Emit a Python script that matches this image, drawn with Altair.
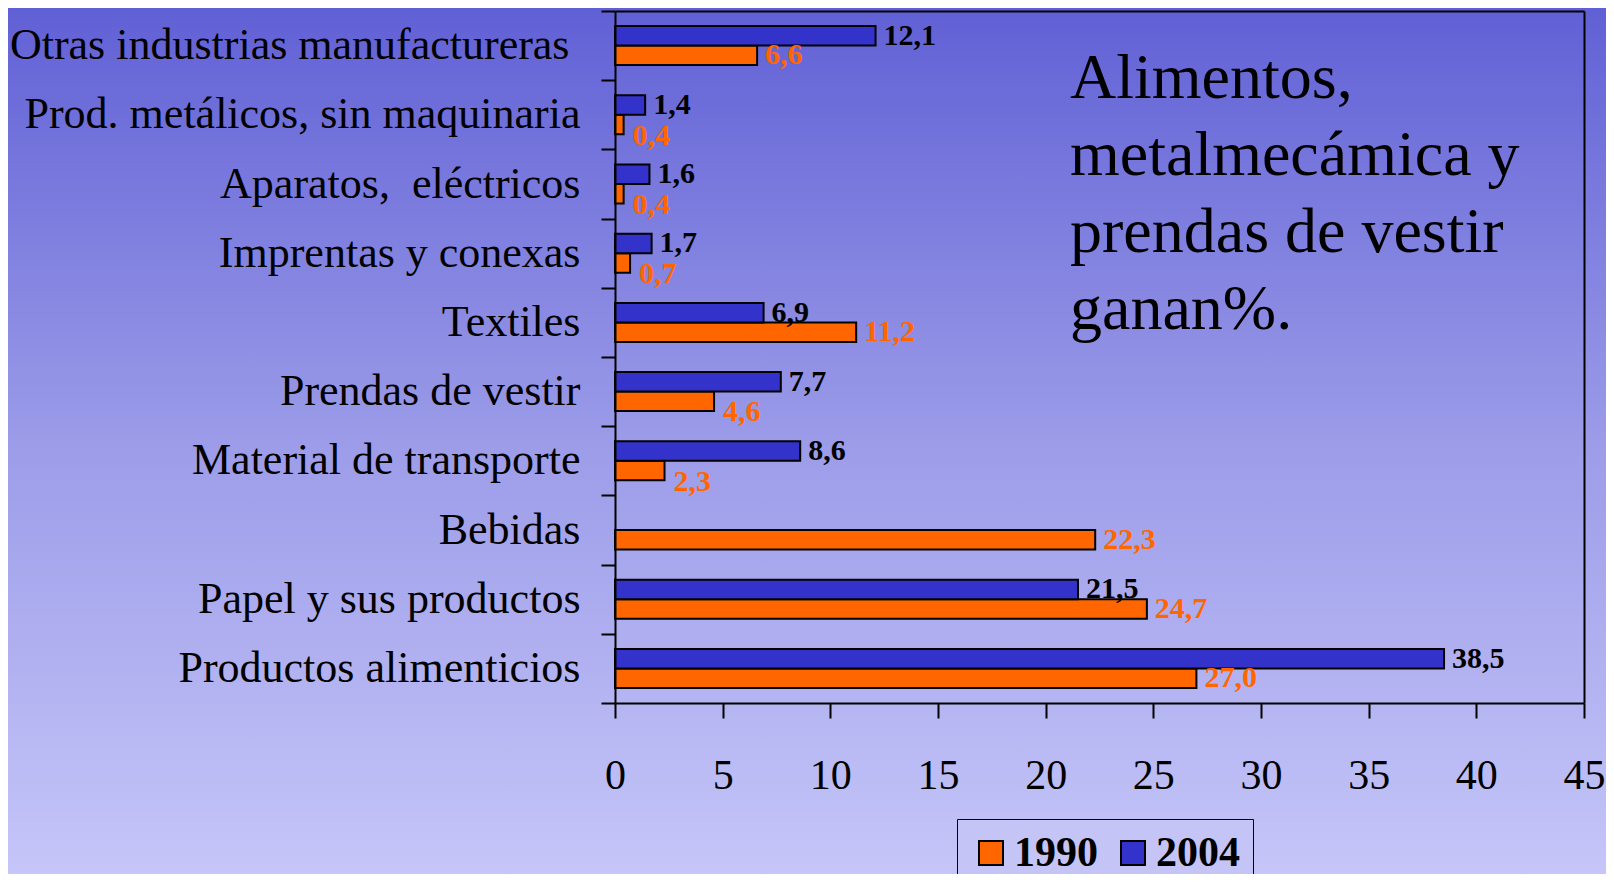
import altair as alt
import pandas as pd

categories = [
    "Otras industrias manufactureras\u00a0\u200b",
    "Prod. metálicos, sin maquinaria",
    "Aparatos,\u00a0 eléctricos",
    "Imprentas y conexas",
    "Textiles",
    "Prendas de vestir",
    "Material de transporte",
    "Bebidas",
    "Papel y sus productos",
    "Productos alimenticios",
]
values_1990 = [6.6, 0.4, 0.4, 0.7, 11.2, 4.6, 2.3, 22.3, 24.7, 27.0]
values_2004 = [12.1, 1.4, 1.6, 1.7, 6.9, 7.7, 8.6, None, 21.5, 38.5]
series = ["1990", "2004"]
series_colors = ["#ff6600", "#3333cc"]
x_ticks = [0, 5, 10, 15, 20, 25, 30, 35, 40, 45]
note = ["Alimentos,", "metalmecámica y", "prendas de vestir", "ganan%."]

rows = []
for c, a, b in zip(categories, values_1990, values_2004):
    rows.append({"cat": c, "serie": "1990", "valor": a})
    rows.append({"cat": c, "serie": "2004", "valor": b})
df = pd.DataFrame(rows)
df = df[df["valor"].notna()].copy()
df["etiqueta"] = df["valor"].map(lambda v: f"{v:.1f}".replace(".", ","))

FONT = "Liberation Serif"
W, H = 969, 692

y_scale = alt.Scale(domain=categories, paddingInner=0, paddingOuter=0)
x_scale = alt.Scale(domain=[0, 45], nice=False, zero=True)
yoff_scale = alt.Scale(domain=["2004", "1990"], paddingInner=0, paddingOuter=0.775)

# background gradient
bg = alt.Chart(pd.DataFrame({"k": [0]})).mark_rect(
    color=alt.LinearGradient(
        gradient="linear",
        stops=[alt.GradientStop(color="#5e5ed5", offset=0),
               alt.GradientStop(color="#9c9ce9", offset=0.5),
               alt.GradientStop(color="#c8c8fa", offset=1)],
        x1=0, x2=0, y1=0, y2=1),
    strokeWidth=0,
).encode(x=alt.value(-640), x2=alt.value(1020), y=alt.value(-20), y2=alt.value(890))

bars = alt.Chart(df).mark_bar(stroke="black", strokeWidth=2, opacity=1).encode(
    y=alt.Y("cat:N", scale=y_scale, sort=categories,
            axis=alt.Axis(title=None, orient="left", tickBand="extent", tickSize=14,
                          tickWidth=2, tickColor="black", domainColor="black",
                          domainWidth=2, labelFontSize=44, labelFont=FONT,
                          labelColor="black", labelPadding=21, labelLimit=1000,
                          zindex=1)),
    x=alt.X("valor:Q", scale=x_scale,
            axis=alt.Axis(title=None, orient="bottom", values=x_ticks, tickSize=15,
                          tickWidth=2, tickColor="black", domainColor="black",
                          domainWidth=2, labelFontSize=42, labelFont=FONT,
                          labelColor="black", labelPadding=37, grid=False,
                          labelFlush=False, zindex=1)),
    yOffset=alt.YOffset("serie:N", scale=yoff_scale, sort=["2004", "1990"]),
    color=alt.Color("serie:N", scale=alt.Scale(domain=series, range=series_colors),
                    legend=alt.Legend(title=None, orient="none", legendX=342, legendY=808,
                                      direction="horizontal", symbolType="square",
                                      symbolSize=576, symbolStrokeColor="black",
                                      symbolStrokeWidth=2, symbolOpacity=1,
                                      labelFontSize=42, labelFont=FONT,
                                      labelFontWeight="bold", labelColor="black",
                                      labelOffset=2, columnPadding=14,
                                      strokeColor="black", padding=13,
                                      fillColor="#c4c4f7")),
)

frame = alt.Chart(df).mark_text(opacity=0).encode(
    y=alt.Y("cat:N", scale=y_scale, sort=categories,
            axis=alt.Axis(title=None, orient="right", labels=False, ticks=False,
                          domainColor="black", domainWidth=2, zindex=1)),
    x=alt.X("valor:Q", scale=x_scale,
            axis=alt.Axis(title=None, orient="top", labels=False, ticks=False,
                          grid=False, domainColor="black", domainWidth=2, zindex=1)),
    text="etiqueta:N",
)

def labels(cond, color, dx, dy):
    return alt.Chart(df).transform_filter(cond).mark_text(
        align="left", baseline="middle", dx=dx, dy=dy, fontSize=30, font=FONT,
        fontWeight="bold", color=color,
    ).encode(
        y=alt.Y("cat:N", scale=y_scale, sort=categories, axis=None),
        x=alt.X("valor:Q", scale=x_scale, axis=None),
        yOffset=alt.YOffset("serie:N", scale=yoff_scale, sort=["2004", "1990"]),
        text="etiqueta:N",
    )

lab2004 = labels(alt.datum.serie == "2004", "black", 8, 0)
lab1990 = labels((alt.datum.serie == "1990") & (alt.datum.valor >= 5), "#ff6600", 8, 0)
lab1990s = labels((alt.datum.serie == "1990") & (alt.datum.valor < 5), "#ff6600", 9, 11)

annot = alt.Chart(pd.DataFrame({"t": ["\n".join(note)]})).mark_text(
    align="left", baseline="alphabetic", fontSize=64, font=FONT, color="black",
    lineBreak="\n", lineHeight=77,
).encode(x=alt.value(455), y=alt.value(87), text="t:N")

chart = alt.layer(bg, bars, frame, lab2004, lab1990, lab1990s, annot).resolve_axis(
    x="independent", y="independent"
).properties(
    width=W, height=H,
    autosize=alt.AutoSizeParams(type="none"),
    padding={"left": 607, "top": 3, "right": 22, "bottom": 171},
).configure_view(stroke=None).configure(background="#c8c8fa", font=FONT)

chart.save("out.html", embed_options={"renderer": "svg", "actions": False})
